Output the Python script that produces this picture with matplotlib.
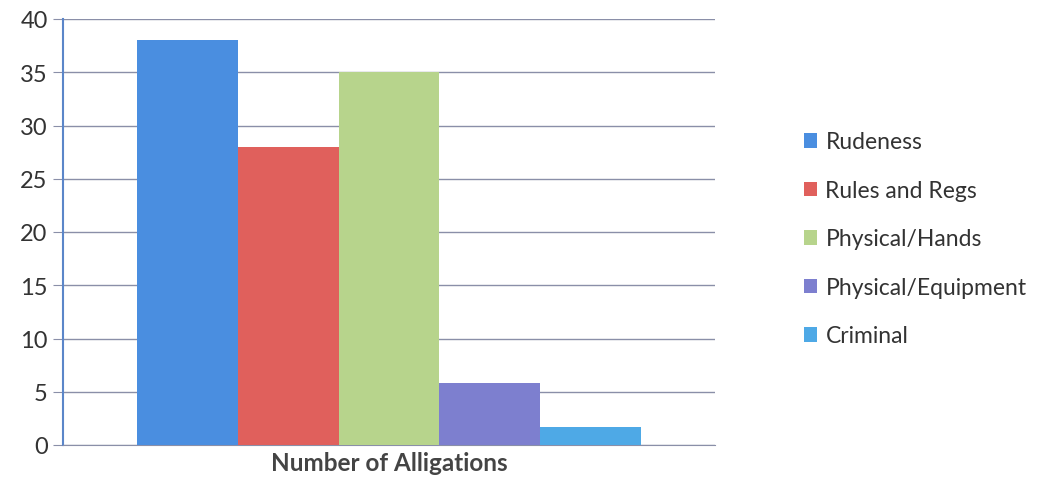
import matplotlib.pyplot as plt
from matplotlib.patches import Patch

# --- data ---
categories = ['Rudeness', 'Rules and Regs', 'Physical/Hands', 'Physical/Equipment', 'Criminal']
values = [38, 28, 35, 5.8, 1.7]
colors = ['#4a8ee0', '#e0605c', '#b7d48c', '#7d7fcf', '#4ea9e6']
group_label = 'Number of Alligations'
y_ticks = [0, 5, 10, 15, 20, 25, 30, 35, 40]

plt.rcParams['font.family'] = ['Lato', 'DejaVu Sans']

fig = plt.figure(figsize=(10.39, 4.85), dpi=100)
ax = fig.add_axes([63 / 1039, 39 / 485, 652 / 1039, 426 / 485])

n = len(categories)
bar_w = 0.1546
offsets = [(i - (n - 1) / 2) * bar_w for i in range(n)]
for off, val, col in zip(offsets, values, colors):
    ax.bar(off, val, width=bar_w, color=col, zorder=3)

ax.set_xlim(-0.5, 0.5)
ax.set_ylim(0, 40)
ax.set_yticks(y_ticks)
ax.set_xticks([0])
ax.set_xticklabels([group_label], fontsize=17.5, fontweight='bold', color='#444444')
ax.tick_params(axis='x', length=0, pad=4)
ax.tick_params(axis='y', length=7, color='#8a8fa8', labelsize=17, labelcolor='#333333', pad=4)
ax.yaxis.grid(True, color='#8a8fa8', linewidth=1, zorder=0)

for s in ['top', 'right']:
    ax.spines[s].set_visible(False)
ax.spines['left'].set_color('#5b86c9')
ax.spines['left'].set_linewidth(1.5)
ax.spines['bottom'].set_color('#8a8fa8')

handles = [Patch(facecolor=c, label=l) for c, l in zip(colors, categories)]
fig.legend(handles=handles, loc='center left', bbox_to_anchor=(783 / 1039, 245 / 485),
           frameon=False, fontsize=16.5, handlelength=0.6, handleheight=0.6,
           handletextpad=0.35, labelspacing=1.2, labelcolor='#333333')

fig.savefig('out.png', dpi=100)
